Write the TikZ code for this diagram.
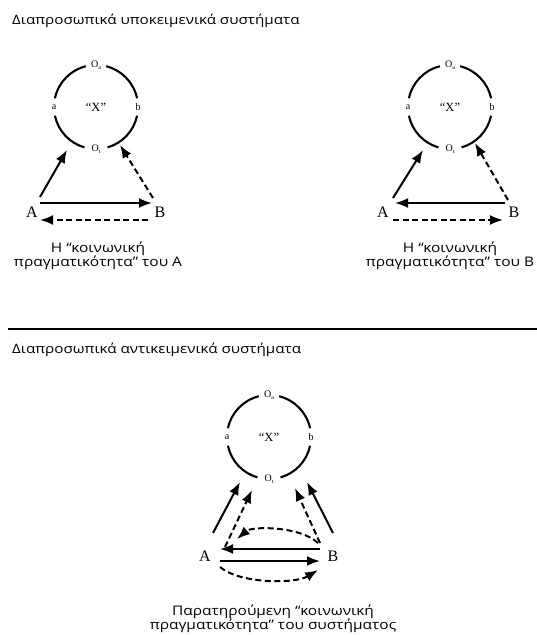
\documentclass[tikz,border=0pt]{standalone}
\usepackage{fontspec}
\setmainfont{Liberation Serif}
\newfontfamily\grsans[FakeStretch=1.17]{Open Sans}
\usetikzlibrary{arrows.meta,calc}
\newcommand\Osub[1]{O\raisebox{-0.35ex}{\fontsize{6}{6}\selectfont #1}}
\begin{document}
\begin{tikzpicture}[x=1pt,y=-1pt,
  ring/.style={circle, minimum size=84pt, inner sep=0pt, outer sep=0pt, font=\fontsize{12.5}{12.5}\selectfont},
  arcline/.style={line width=2.1pt},
  lbl/.style={inner sep=0pt, font=\fontsize{10}{10}\selectfont},
  agent/.style={inner sep=0pt, font=\fontsize{16}{16}\selectfont},
  title/.style={anchor=base west, inner sep=0pt, font=\grsans\fontsize{13}{13}\selectfont},
  caption/.style={align=center, inner sep=0pt, anchor=base, font=\grsans\fontsize{13.2}{14}\selectfont},
  sol/.style={line width=2pt, -{Latex[length=13pt,width=10pt]}},
  das/.style={sol, dash pattern=on 6pt off 3.5pt},
]
\useasboundingbox (0,0) rectangle (537,635);

% titles
\node[title] (t1) at (12,24) {Διαπροσωπικά υποκειμενικά συστήματα};
\node[title] (t2) at (12,353) {Διαπροσωπικά αντικειμενικά συστήματα};
\draw[line width=2pt] (8,329) -- (537,329);

% rings
\foreach \n/\x/\y in {r1/96/107, r2/450/107, r3/269/437}{
  \node[ring] (\n) at (\x,\y) {``X''};
  \foreach \s/\e in {12/76, 104/168, 192/254, 286/348}
    \draw[arcline] (\n.\s) arc[start angle=\s, end angle=\e, radius=42pt];
  \node[lbl] (\n-oa) at (\n.90) {\Osub{a}};
  \node[lbl] (\n-ot) at (\n.270) {\Osub{t}};
  \node[lbl] (\n-a) at (\n.180) {a};
  \node[lbl] (\n-b) at (\n.0) {b};
}

% agents
\node[agent] (A1) at (32,212) {A};
\node[agent] (B1) at (160,212) {B};
\node[agent] (A2) at (383,212) {A};
\node[agent] (B2) at (514,212) {B};
\node[agent] (A3) at (205,556) {A};
\node[agent] (B3) at (333,556) {B};

% arrow targets near rings
\coordinate (p1) at (67,150);
\coordinate (q1) at (120,145);
\coordinate (p2) at (423,150);
\coordinate (q2) at (475,143);
\coordinate (p3) at (240,482);
\coordinate (q3) at (252,490);
\coordinate (u3) at (295,488);
\coordinate (v3) at (307,482);

% left diagram
\draw[sol] ($(A1)+(8,-9)$) -- ($(B1)+(-8,-9)$);
\draw[das] ($(B1)+(-12,8)$) -- ($(A1)+(8,8)$);
\draw[sol] ($(A1)+(8,-15)$) -- (p1);
\draw[das] ($(B1)+(-7,-14)$) -- (q1);

% right diagram
\draw[sol] ($(A2)+(10,-14)$) -- (p2);
\draw[das] ($(B2)+(-6,-12)$) -- (q2);
\draw[sol] ($(B2)+(-9,-9)$) -- ($(A2)+(12,-9)$);
\draw[das] ($(A2)+(10,8)$) -- ($(B2)+(-11,8)$);

% bottom diagram
\draw[sol] ($(A3)+(8,-23)$) -- (p3);
\draw[das] ($(A3)+(20,-9)$) -- (q3);
\draw[das] ($(B3)+(-13,-13)$) -- (u3);
\draw[sol] ($(B3)+(0,-23)$) -- (v3);
\draw[das] ($(B3)+(-15,-13)$) .. controls (300,526) and (252,526) .. ($(A3)+(32,-17)$);
\draw[sol] ($(B3)+(-13,-7)$) -- ($(A3)+(15,-7)$);
\draw[sol] ($(A3)+(15,5)$) -- ($(B3)+(-13,5)$);
\draw[das] ($(A3)+(15,11)$) .. controls (240,584) and (295,584) .. ($(B3)+(-15,14)$);

% captions
\node[caption] (c1) at (98,266) {Η “κοινωνική\\πραγματικότητα” του Α};
\node[caption] (c2) at (450,266) {Η “κοινωνική\\πραγματικότητα” του Β};
\node[caption] (c3) at (273,629) {Παρατηρούμενη “κοινωνική\\πραγματικότητα” του συστήματος};
\end{tikzpicture}
\end{document}
